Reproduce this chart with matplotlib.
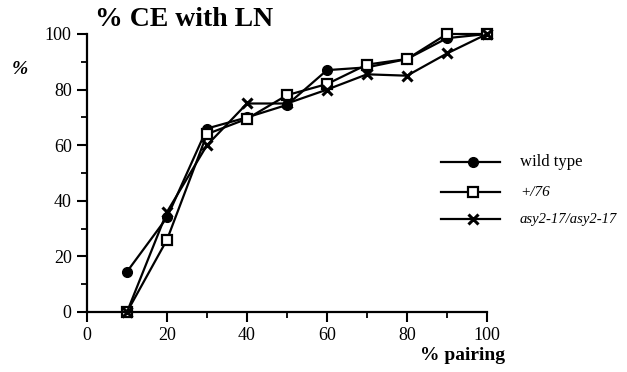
import matplotlib
matplotlib.use("Agg")
import matplotlib.pyplot as plt
from matplotlib.ticker import MultipleLocator

x = [10, 20, 30, 40, 50, 60, 70, 80, 90, 100]
wild_type = [14.5, 34, 66, 70, 74.5, 87, 88, 91, 98.5, 100]
plus76 = [0, 26, 64, 69.5, 78, 82, 89, 91, 100, 100]
asy2 = [0, 36, 60, 75, 75, 80, 85.5, 85, 93, 100]
labels = ["wild type", "+/76", "asy2-17/asy2-17"]

plt.rcParams['font.family'] = ['Liberation Serif', 'DejaVu Serif']

fig = plt.figure(figsize=(6.27, 3.72), dpi=100)
ax = fig.add_axes([87/627, 60/372, 400/627, 278/372])

ax.plot(x, wild_type, color='black', lw=1.6, marker='o', ms=7, mfc='black', mec='black')
ax.plot(x, plus76, color='black', lw=1.6, marker='s', ms=6.5, mfc='white', mec='black', mew=1.6)
ax.plot(x, asy2, color='black', lw=1.6, marker='x', ms=7, mew=2.2)

ax.set_xlim(0, 100)
ax.set_ylim(0, 100)
ax.xaxis.set_major_locator(MultipleLocator(20))
ax.xaxis.set_minor_locator(MultipleLocator(10))
ax.yaxis.set_major_locator(MultipleLocator(20))
ax.yaxis.set_minor_locator(MultipleLocator(10))
for s in ['top', 'right']:
    ax.spines[s].set_visible(False)
for s in ['left', 'bottom']:
    ax.spines[s].set_linewidth(1.6)
ax.tick_params(which='major', direction='out', length=7, width=1.5, labelsize=13, pad=4)
ax.tick_params(which='minor', direction='out', length=4, width=1.3)
for l in ax.lines:
    l.set_clip_on(False)

fig.text(95/627, 1 - 20/372, "% CE with LN", fontsize=20, fontweight='bold', va='center', ha='left')
fig.text(12/627, 1 - 70/372, "%", fontsize=14, fontweight='bold', style='italic', va='center', ha='left')
fig.text(420/627, 1 - 355/372, "% pairing", fontsize=14, fontweight='bold', va='center', ha='left')

# legend
leg_y = [162, 192, 219]
markers = [dict(marker='o', ms=7, mfc='black', mec='black'),
           dict(marker='s', ms=6.5, mfc='white', mec='black', mew=1.6),
           dict(marker='x', ms=7, mew=2.2, mec='black')]
styles = [dict(fontsize=12), dict(style='italic', fontsize=11), dict(style='italic', fontsize=10.5)]
for yy, mk, lab, st in zip(leg_y, markers, labels, styles):
    fy = 1 - yy / 372
    fig.add_artist(plt.Line2D([441/627, 500/627], [fy, fy], color='black', lw=1.6,
                              transform=fig.transFigure))
    fig.add_artist(plt.Line2D([473/627], [fy], color='black', lw=0, transform=fig.transFigure, **mk))
    fig.text(520/627, fy, lab, va='center', ha='left', **st)

fig.savefig("out.png", dpi=100)
